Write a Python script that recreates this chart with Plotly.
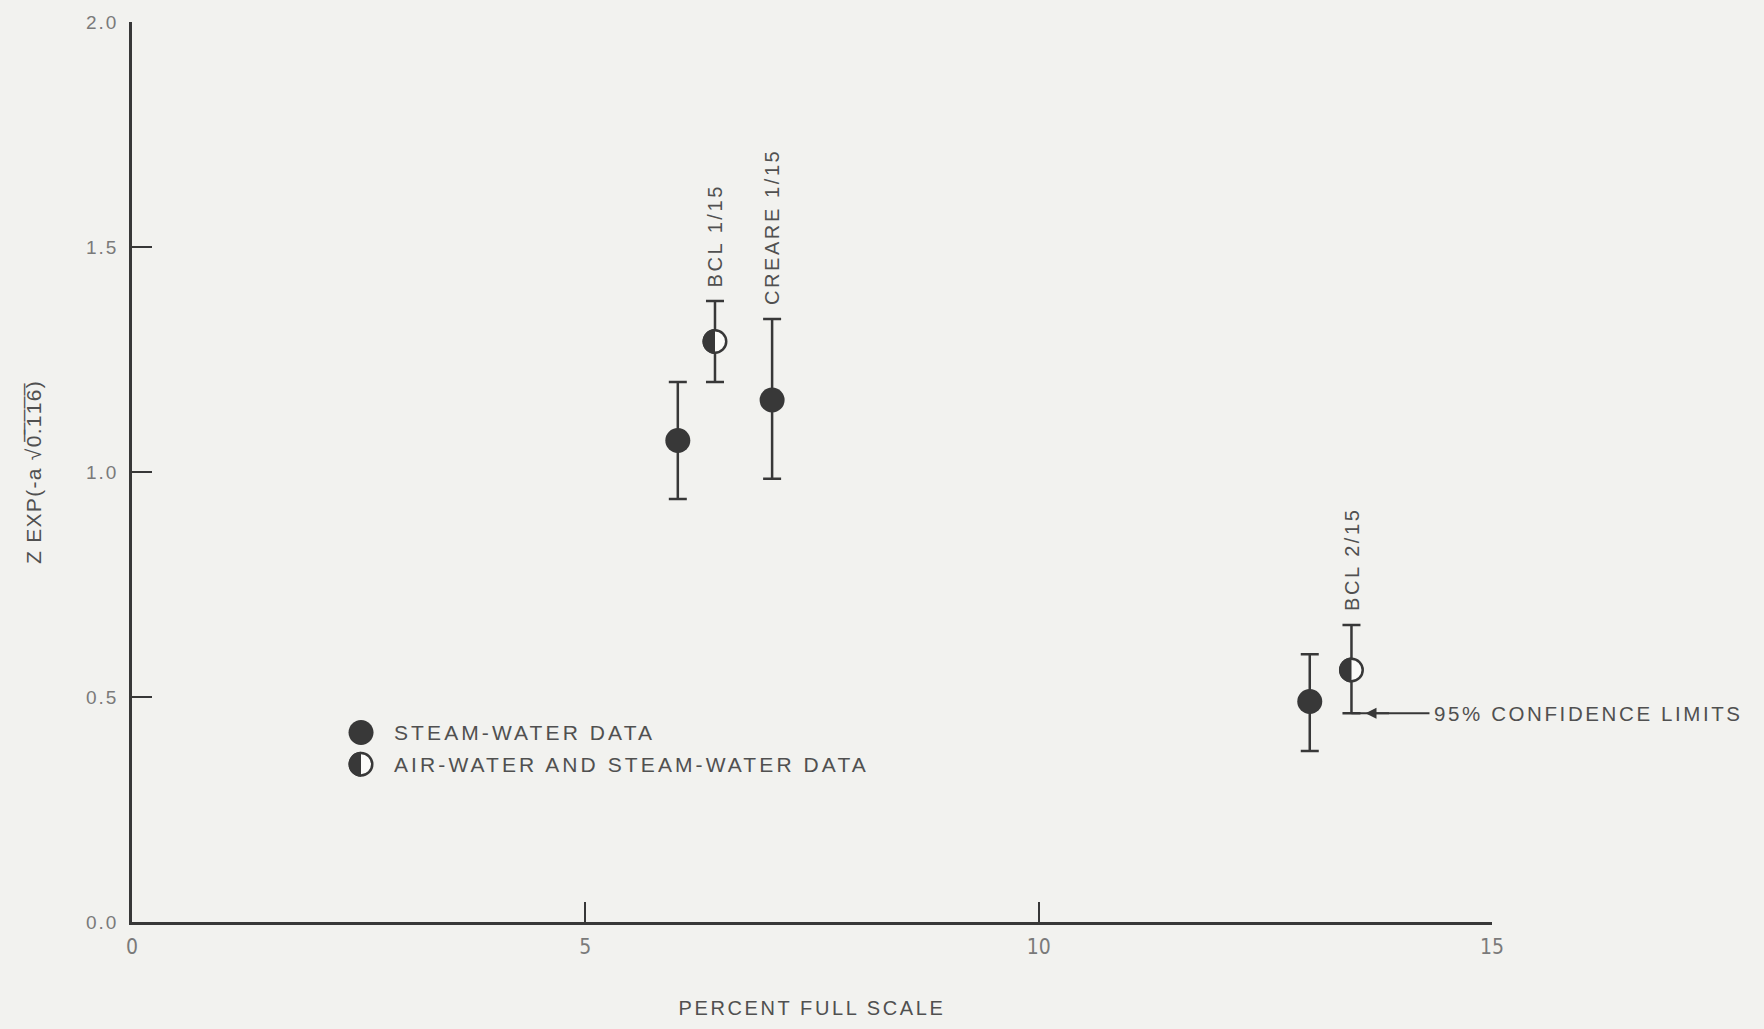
import plotly.graph_objects as go

# ---- data ----
x_ticks = [0, 5, 10, 15]
x_tick_labels = ["0", "5", "10", "15"]
y_ticks = [0.0, 0.5, 1.0, 1.5, 2.0]
y_tick_labels = ["0.0", "0.5", "1.0", "1.5", "2.0"]

# steam-water data (filled circles)
x_steam = [6.02, 7.06, 12.99]
y_steam = [1.07, 1.16, 0.49]
hi_steam = [1.20, 1.34, 0.595]
lo_steam = [0.94, 0.985, 0.38]
lab_steam = ["", "CREARE 1/15", ""]

# air-water and steam-water data (half-filled circles)
x_mixed = [6.43, 13.45]
y_mixed = [1.29, 0.56]
hi_mixed = [1.38, 0.66]
lo_mixed = [1.20, 0.464]
lab_mixed = ["BCL 1/15", "BCL 2/15"]

legend_names = ["STEAM-WATER DATA", "AIR-WATER AND STEAM-WATER DATA"]
note_text = "95% CONFIDENCE LIMITS"

# ---- style ----
BG = "#f2f2ef"
INK = "#383838"
TXT = "#505050"
TICKTXT = "#7a7a7a"
FONT = "Liberation Sans, Arial, Helvetica, sans-serif"
NARROW = "Liberation Sans Narrow, DejaVu Sans Condensed, Arial"
LS = 2.6  # letter spacing px
MS = 25  # marker diameter
R = MS / 2.0


def sp(t, ls=LS):
    return f"<span style='letter-spacing:{ls}px'>{t}</span>"


def half_disc(r):
    k = 0.5523 * r
    return (f"M 0,{-r} C {-k},{-r} {-r},{-k} {-r},0 "
            f"C {-r},{k} {-k},{r} 0,{r} Z")


def circle_path(r):
    k = 0.5523 * r
    return (f"M 0,{-r} C {-k},{-r} {-r},{-k} {-r},0 C {-r},{k} {-k},{r} 0,{r} "
            f"C {k},{r} {r},{k} {r},0 C {r},{-k} {k},{-r} 0,{-r} Z")


fig = go.Figure()

fig.add_trace(go.Scatter(
    x=x_steam, y=y_steam, mode="markers", name=legend_names[0], showlegend=False,
    marker=dict(symbol="circle", size=MS, color=INK, line=dict(width=0)),
    error_y=dict(type="data", symmetric=False,
                 array=[h - y for h, y in zip(hi_steam, y_steam)],
                 arrayminus=[y - l for l, y in zip(lo_steam, y_steam)],
                 thickness=2.5, width=9, color=INK),
))

fig.add_trace(go.Scatter(
    x=x_mixed, y=y_mixed, mode="markers", name=legend_names[1], showlegend=False,
    marker=dict(symbol="circle", size=MS - 2.5, color="#fbfbf9", line=dict(width=2.5, color=INK)),
    error_y=dict(type="data", symmetric=False,
                 array=[h - y for h, y in zip(hi_mixed, y_mixed)],
                 arrayminus=[y - l for l, y in zip(lo_mixed, y_mixed)],
                 thickness=2.5, width=9, color=INK),
))

shapes = []
for xv, yv in zip(x_mixed, y_mixed):
    shapes.append(dict(type="path", xref="x", yref="y", xsizemode="pixel", ysizemode="pixel",
                       xanchor=xv, yanchor=yv, path=half_disc(R),
                       fillcolor=INK, line=dict(width=0), layer="above"))

annotations = []
# rotated point labels
for xs, hs, ls_ in ((x_steam, hi_steam, lab_steam), (x_mixed, hi_mixed, lab_mixed)):
    for xv, hv, t in zip(xs, hs, ls_):
        if not t:
            continue
        annotations.append(dict(x=xv, y=hv, xref="x", yref="y", text=sp(t), showarrow=False,
                                textangle=-90, xanchor="center", yanchor="bottom", yshift=12,
                                font=dict(family=FONT, size=20, color=TXT)))

# confidence-limit note with arrow
annotations.append(dict(x=x_mixed[1], y=lo_mixed[1], xref="x", yref="y", text=sp(note_text),
                        showarrow=True, arrowhead=0, arrowwidth=2, arrowcolor=INK,
                        ax=78, ay=0, xanchor="left", yanchor="middle", borderpad=4,
                        font=dict(family=FONT, size=20.5, color=TXT)))
annotations.append(dict(x=x_mixed[1], y=lo_mixed[1], xref="x", yref="y", text="",
                        showarrow=True, arrowhead=2, arrowsize=1.1, arrowwidth=2, arrowcolor=INK,
                        ax=25, ay=0, xshift=14))

# manual legend
leg_x = 0.1684
leg_tx = 0.191
leg_y = [0.2106, 0.1753]
shapes.append(dict(type="path", xref="paper", yref="paper", xsizemode="pixel", ysizemode="pixel",
                   xanchor=leg_x, yanchor=leg_y[0], path=circle_path(R),
                   fillcolor=INK, line=dict(width=0)))
shapes.append(dict(type="path", xref="paper", yref="paper", xsizemode="pixel", ysizemode="pixel",
                   xanchor=leg_x, yanchor=leg_y[1], path=circle_path(R - 1.25),
                   fillcolor="#fbfbf9", line=dict(width=2.5, color=INK)))
shapes.append(dict(type="path", xref="paper", yref="paper", xsizemode="pixel", ysizemode="pixel",
                   xanchor=leg_x, yanchor=leg_y[1], path=half_disc(R),
                   fillcolor=INK, line=dict(width=0)))
for name, yv in zip(legend_names, leg_y):
    annotations.append(dict(x=leg_tx, y=yv, xref="paper", yref="paper", text=sp(name, 3.1),
                            showarrow=False, xanchor="left", yanchor="middle",
                            font=dict(family=FONT, size=21, color=TXT)))

fig.update_layout(
    width=1764, height=1029,
    margin=dict(l=132, r=272, t=20, b=102),
    paper_bgcolor=BG, plot_bgcolor=BG,
    showlegend=False,
    shapes=shapes, annotations=annotations,
    xaxis=dict(range=[0, 15], tickvals=x_ticks, ticktext=x_tick_labels,
               showgrid=False, zeroline=False, showline=True, linecolor=INK, linewidth=2.5,
               ticks="inside", ticklen=20, tickwidth=2, tickcolor=INK,
               ticklabelstandoff=4,
               tickfont=dict(family=NARROW, size=21, color=TICKTXT),
               title=dict(text=sp("PERCENT FULL SCALE"), standoff=44,
                          font=dict(family=FONT, size=20, color=TXT))),
    yaxis=dict(range=[0, 2.0], tickvals=y_ticks, ticktext=[sp(t, 2) for t in y_tick_labels],
               showgrid=False, zeroline=False, showline=True, linecolor=INK, linewidth=2.5,
               ticks="inside", ticklen=20, tickwidth=2, tickcolor=INK,
               ticklabelstandoff=7,
               tickfont=dict(family=FONT, size=19, color=TICKTXT),
               title=dict(text=sp("Z EXP(-a \u221a0\u0305.\u03051\u03051\u03056\u0305)", 1.3), standoff=39,
                          font=dict(family=FONT, size=21, color=TXT))),
)

fig.write_html("out.html", config={"displayModeBar": False},
               post_script="document.body.style.margin='0';")
